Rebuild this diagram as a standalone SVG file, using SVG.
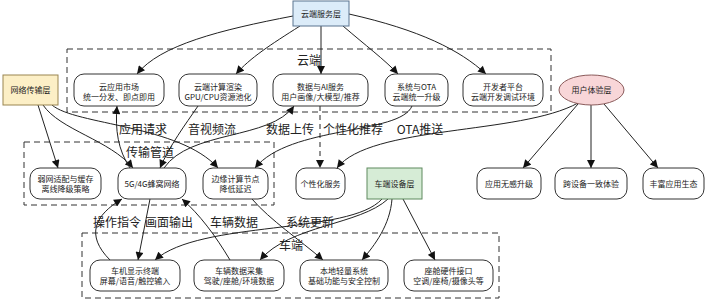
<svg xmlns="http://www.w3.org/2000/svg" width="710" height="300" viewBox="0 0 710 300">
<defs>
<marker id="ah" viewBox="0 0 10 10" refX="10" refY="5" markerWidth="9" markerHeight="8" markerUnits="userSpaceOnUse" orient="auto">
<path d="M0,0 L10,5 L0,10 z" fill="#111"/>
</marker>
</defs>
<style>
text{font-family:"Noto Sans CJK SC","Noto Sans",sans-serif;fill:#222;text-anchor:middle}
.n{font-size:8px}
.lb{font-size:12px}
.cl{fill:none;stroke:#333;stroke-width:1;stroke-dasharray:6,4}
.nd{fill:#fff;stroke:#333;stroke-width:1}
.e{fill:none;stroke:#222;stroke-width:1;marker-end:url(#ah)}
.d{stroke-dasharray:5,4}
</style>
<rect x="0" y="0" width="710" height="300" fill="#fff"/>
<g id="clusters">
<rect class="cl" x="67" y="49" width="484" height="63"/>
<text class="lb" x="309" y="65">云端</text>
<rect class="cl" x="24" y="142" width="250" height="63"/>
<text class="lb" x="150" y="157">传输管道</text>
<rect class="cl" x="82" y="233" width="417" height="65"/>
<text class="lb" x="291" y="250">车端</text>
</g>
<g id="connectors">
<path class="e" d="M293,16 C220,30 160,45 137,74"/>
<path class="e" d="M300,26 C270,45 250,58 236,74"/>
<path class="e" d="M321,26 L321,74"/>
<path class="e" d="M343,26 C365,45 385,60 398,74"/>
<path class="e" d="M349,14 C420,30 460,50 486,74"/>
<path class="e" d="M38,105 L58,168"/>
<path class="e" d="M43,105 C60,130 110,140 133,168"/>
<path class="e" d="M52,105 C75,125 180,125 218,168"/>
<path class="e" d="M130,168 C118,150 115,130 117,106"/>
<path class="e" d="M198,106 C185,125 170,145 160,168"/>
<path class="e" d="M164,168 C190,130 270,140 294,106"/>
<path class="e d" d="M320,106 L320,168"/>
<path class="e" d="M412,106 C400,135 290,125 255,168"/>
<path class="e" d="M578,103 C520,135 370,125 337,168"/>
<path class="e" d="M578,104 L523,168"/>
<path class="e" d="M591,105 L591,168"/>
<path class="e" d="M604,104 L658,168"/>
<path class="e" d="M382,199 C350,235 200,220 155,260"/>
<path class="e" d="M388,199 C360,225 290,225 260,260"/>
<path class="e" d="M392,199 C390,225 375,245 362,260"/>
<path class="e" d="M403,199 L435,260"/>
<path class="e" d="M110,260 C85,235 95,215 122,199"/>
<path class="e" d="M150,199 L138,260"/>
<path class="e" d="M230,260 C215,235 200,215 182,199"/>
<path class="e" d="M252,199 C270,220 300,240 323,260"/>
<text class="lb" x="143" y="134">应用请求</text>
<text class="lb" x="212" y="134">音视频流</text>
<text class="lb" x="290" y="134">数据上传</text>
<text class="lb" x="353" y="134">个性化推荐</text>
<text class="lb" x="420" y="134">OTA推送</text>
<text class="lb" x="117" y="227">操作指令</text>
<text class="lb" x="169" y="227">画面输出</text>
<text class="lb" x="234" y="227">车辆数据</text>
<text class="lb" x="310" y="227">系统更新</text>
</g>
<g id="cloud_layer"><rect x="293" y="1" width="56" height="25" fill="#dcecf9" stroke="#5b7590"/><text class="n" x="321" y="16.5">云端服务层</text></g>
<g id="net_layer"><rect x="3" y="75" width="55" height="30" fill="#fcefc6" stroke="#9a8550"/><text class="n" x="30.5" y="93">网络传输层</text></g>
<g id="ux_layer"><ellipse cx="591.5" cy="90" rx="32.5" ry="15" fill="#f8d6d8" stroke="#8a5a5a"/><text class="n" x="591.5" y="93">用户体验层</text></g>
<g id="car_layer"><rect x="367" y="168" width="55" height="31" fill="#d6ecd6" stroke="#5f8a5f"/><text class="n" x="394.5" y="186.5">车端设备层</text></g>
<g id="a1"><rect class="nd" x="74" y="74" width="90" height="32" rx="10"/><text class="n" x="119" y="89.5">云应用市场</text><text class="n" x="119" y="99.5">统一分发、即点即用</text></g>
<g id="a2"><rect class="nd" x="179" y="74" width="78" height="32" rx="10"/><text class="n" x="218" y="89.5">云端计算渲染</text><text class="n" x="218" y="99.5">GPU/CPU资源池化</text></g>
<g id="a3"><rect class="nd" x="273" y="74" width="95" height="32" rx="10"/><text class="n" x="320.5" y="89.5">数据与AI服务</text><text class="n" x="320.5" y="99.5">用户画像/大模型/推荐</text></g>
<g id="a4"><rect class="nd" x="385" y="74" width="63" height="32" rx="10"/><text class="n" x="416.5" y="89.5">系统与OTA</text><text class="n" x="416.5" y="99.5">云端统一升级</text></g>
<g id="a5"><rect class="nd" x="463" y="74" width="80" height="32" rx="10"/><text class="n" x="503" y="89.5">开发者平台</text><text class="n" x="503" y="99.5">云端开发调试环境</text></g>
<g id="b1"><rect class="nd" x="30" y="168" width="71" height="31" rx="10"/><text class="n" x="65.5" y="182">弱网适配与缓存</text><text class="n" x="65.5" y="192">离线降级策略</text></g>
<g id="b2"><rect class="nd" x="118" y="168" width="68" height="31" rx="10"/><text class="n" x="152" y="186.5">5G/4G蜂窝网络</text></g>
<g id="b3"><rect class="nd" x="203" y="168" width="65" height="31" rx="10"/><text class="n" x="235.5" y="182">边缘计算节点</text><text class="n" x="235.5" y="192">降低延迟</text></g>
<g id="p1"><rect class="nd" x="296" y="168" width="49" height="31" rx="10"/><text class="n" x="320.5" y="186.5">个性化服务</text></g>
<g id="u1"><rect class="nd" x="477" y="168" width="64" height="31" rx="10"/><text class="n" x="509" y="186.5">应用无感升级</text></g>
<g id="u2"><rect class="nd" x="555" y="168" width="72" height="31" rx="10"/><text class="n" x="591" y="186.5">跨设备一致体验</text></g>
<g id="u3"><rect class="nd" x="643" y="168" width="61" height="31" rx="10"/><text class="n" x="673.5" y="186.5">丰富应用生态</text></g>
<g id="c1"><rect class="nd" x="90" y="260" width="90" height="31" rx="10"/><text class="n" x="135" y="274">车机显示终端</text><text class="n" x="135" y="284">屏幕/语音/触控输入</text></g>
<g id="c2"><rect class="nd" x="194" y="260" width="90" height="31" rx="10"/><text class="n" x="239" y="274">车辆数据采集</text><text class="n" x="239" y="284">驾驶/座舱/环境数据</text></g>
<g id="c3"><rect class="nd" x="300" y="260" width="88" height="31" rx="10"/><text class="n" x="344" y="274">本地轻量系统</text><text class="n" x="344" y="284">基础功能与安全控制</text></g>
<g id="c4"><rect class="nd" x="404" y="260" width="89" height="31" rx="10"/><text class="n" x="448.5" y="274">座舱硬件接口</text><text class="n" x="448.5" y="284">空调/座椅/摄像头等</text></g>
</svg>
